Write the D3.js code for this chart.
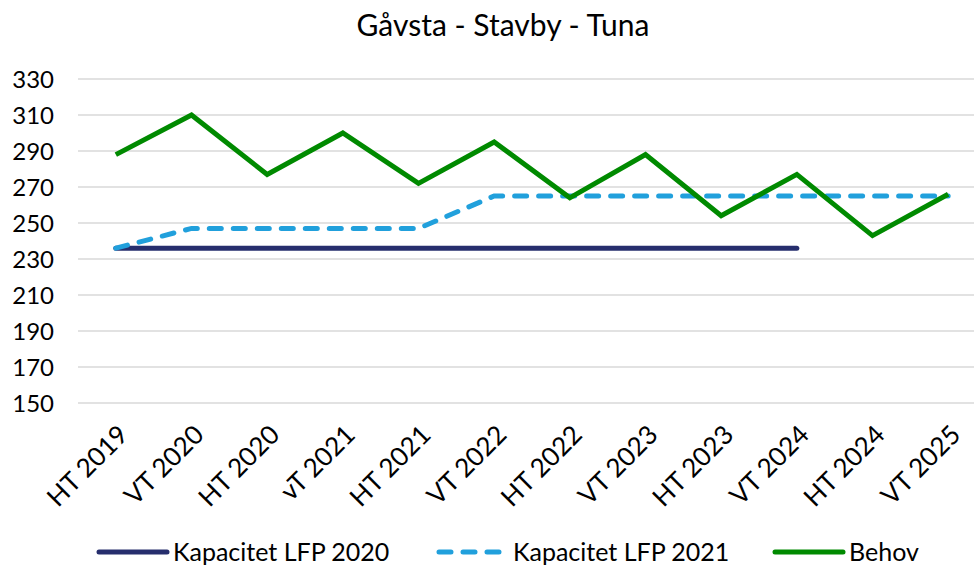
<!DOCTYPE html>
<html>
<head>
<meta charset="utf-8">
<script src="https://cdn.jsdelivr.net/npm/d3@7"></script>
<style>
  body { margin: 0; background: #fff; }
  text { font-family: Lato, "Open Sans", sans-serif; fill: #000; }
</style>
</head>
<body>
<div class="chart"></div>
<script>
// chart data
var categories = ["HT 2019", "VT 2020", "HT 2020", "vT 2021", "HT 2021", "VT 2022",
  "HT 2022", "VT 2023", "HT 2023", "VT 2024", "HT 2024", "VT 2025"];
var lfp2020 = [236, 236, 236, 236, 236, 236, 236, 236, 236, 236];
var lfp2021 = [236, 247, 247, 247, 247, 265, 265, 265, 265, 265, 265, 265];
var behov = [288, 310, 277, 300, 272, 295, 264, 288, 254, 277, 243, 266];
var yTicks = [150, 170, 190, 210, 230, 250, 270, 290, 310, 330];

var svgWidth = 974;
var svgHeight = 568;

var svg = d3.select(".chart")
  .append("svg")
  .attr("width", svgWidth)
  .attr("height", svgHeight);

// scales
var xScale = d3.scalePoint()
  .domain(categories)
  .range([78, 986])
  .padding(0.5);

var yScale = d3.scaleLinear()
  .domain([150, 330])
  .range([403, 79]);

// gridlines
svg.append("g")
  .selectAll("line")
  .data(yTicks)
  .enter()
  .append("line")
  .attr("x1", 78)
  .attr("x2", 986)
  .attr("y1", d => yScale(d))
  .attr("y2", d => yScale(d))
  .attr("stroke", "#d9d9d9")
  .attr("stroke-width", 1.5);

// y axis labels
var yAxis = d3.axisLeft(yScale).tickValues(yTicks).tickSize(0).tickPadding(10);
var yG = svg.append("g")
  .attr("transform", "translate(64, 0)")
  .call(yAxis);
yG.select(".domain").remove();
yG.selectAll("text")
  .style("font-size", "24px")
  .attr("dy", "0.35em");

// x axis labels
var xAxis = d3.axisBottom(xScale).tickSize(0);
var xG = svg.append("g")
  .attr("transform", "translate(0, 403)")
  .call(xAxis);
xG.select(".domain").remove();
xG.selectAll("text")
  .style("font-size", "26px")
  .style("text-anchor", "end")
  .attr("transform", "translate(7, 27) rotate(-45)")
  .attr("y", 0)
  .attr("dy", "0.35em");

// series lines
var line = d3.line()
  .x((d, i) => xScale(categories[i]))
  .y(d => yScale(d));

svg.append("path")
  .datum(lfp2020)
  .attr("d", line)
  .attr("fill", "none")
  .attr("stroke", "#262e6d")
  .attr("stroke-width", 5)
  .attr("stroke-linecap", "round");

svg.append("path")
  .datum(lfp2021)
  .attr("d", line)
  .attr("fill", "none")
  .attr("stroke", "#21a0dc")
  .attr("stroke-width", 5)
  .attr("stroke-linecap", "round")
  .attr("stroke-dasharray", "12 12");

svg.append("path")
  .datum(behov)
  .attr("d", line)
  .attr("fill", "none")
  .attr("stroke", "#008a00")
  .attr("stroke-width", 5)
  .attr("stroke-linejoin", "miter");

// title
svg.append("text")
  .attr("x", 503)
  .attr("y", 36)
  .attr("text-anchor", "middle")
  .style("font-size", "30px")
  .text("Gåvsta - Stavby - Tuna");

// legend
var legendItems = [
  { name: "Kapacitet LFP 2020", color: "#262e6d", dash: null, x: 97 },
  { name: "Kapacitet LFP 2021", color: "#21a0dc", dash: "12 12", x: 437 },
  { name: "Behov", color: "#008a00", dash: null, x: 773 }
];

var legend = svg.selectAll(".legend")
  .data(legendItems)
  .enter()
  .append("g")
  .attr("class", "legend")
  .attr("transform", d => `translate(${d.x}, 552)`);

legend.append("line")
  .attr("x1", 2)
  .attr("x2", 70)
  .attr("stroke", d => d.color)
  .attr("stroke-width", 5)
  .attr("stroke-linecap", "round")
  .attr("stroke-dasharray", d => d.dash);

legend.append("text")
  .attr("x", 76)
  .attr("dy", "0.35em")
  .style("font-size", "25px")
  .text(d => d.name);
</script>
</body>
</html>
